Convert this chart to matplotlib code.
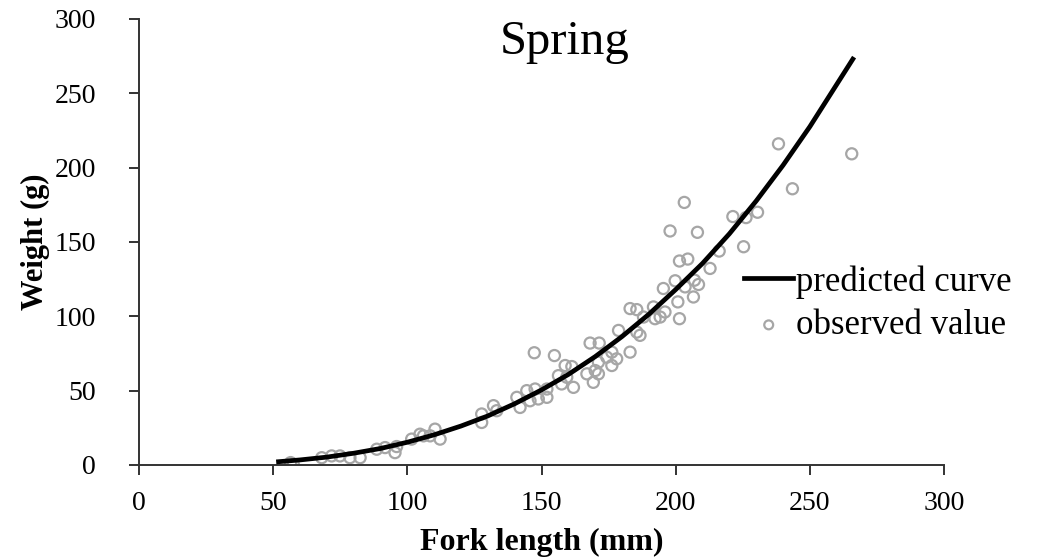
import numpy as np
from matplotlib import pyplot as plt

# predicted curve
curve_len = [52, 60, 70, 80, 90, 100, 110, 120, 130, 140, 150, 160, 170,
             180, 190, 200, 210, 220, 230, 240, 250, 266]
curve_w = [2.2, 3.4, 5.3, 7.9, 11.1, 15.3, 20.3, 26.2, 33.0, 41.2, 50.5, 60.9,
           72.9, 86.4, 101.4, 118.0, 135.6, 155.5, 177.6, 201.6, 227.6, 273.0]

# observed values
obs_len = [56.5, 57.5, 68.1, 71.8, 74.9, 78.6, 82.4, 88.6, 91.7, 95.4, 96.0,
           101.6, 104.7, 106.0, 108.5, 110.3, 112.2, 127.7, 127.7, 132.1, 133.3,
           140.8, 142.0, 144.5, 145.7, 147.3, 147.6, 148.8, 152.0, 152.0, 154.8,
           156.3, 157.5, 158.8, 159.4, 161.3, 161.9, 166.9, 168.1, 169.3, 170.0,
           171.2, 171.2, 171.5, 174.3, 176.2, 176.2, 178.0, 178.7, 183.0, 183.0,
           185.5, 185.5, 186.7, 188.0, 191.7, 192.3, 194.2, 195.4, 196.0, 197.9,
           199.8, 200.8, 201.4, 201.4, 203.2, 203.5, 204.5, 206.6, 207.0, 208.1,
           208.5, 212.8, 216.2, 221.3, 225.3, 226.2, 230.5, 238.3, 243.5, 265.6]
obs_w = [1.6, 0.5, 4.9, 6.1, 6.1, 4.9, 4.9, 10.6, 11.7, 8.3, 12.4,
         17.4, 20.7, 19.6, 19.6, 24.1, 17.4, 34.3, 28.6, 39.9, 36.5,
         45.5, 38.7, 50.0, 43.2, 75.5, 51.1, 44.4, 45.5, 51.1, 73.6,
         60.1, 54.5, 66.9, 59.0, 66.2, 52.2, 61.3, 82.0, 55.6, 63.5,
         69.1, 61.3, 82.0, 72.5, 75.9, 66.9, 71.4, 90.5, 105.2, 75.9,
         104.5, 89.4, 87.2, 99.5, 106.3, 98.4, 99.5, 118.7, 102.9, 157.4,
         123.9, 109.7, 137.2, 98.4, 176.6, 119.8, 138.5, 113.0, 124.3, 156.5,
         121.4, 132.2, 143.9, 167.1, 146.8, 166.4, 170.0, 216.0, 185.8, 209.3]

x_ticks = [0, 50, 100, 150, 200, 250, 300]
y_ticks = [0, 50, 100, 150, 200, 250, 300]

plt.rcParams['font.family'] = ['Liberation Serif', 'DejaVu Serif']

fig = plt.figure(figsize=(10.42, 5.58), dpi=100)
ax = fig.add_axes([0.1334, 0.1667, 0.7726, 0.7993])

ax.scatter(obs_len, obs_w, s=64, facecolors='none', edgecolors='#a6a6a6',
           linewidths=1.6, label='observed value', zorder=2)
ax.plot(curve_len, curve_w, color='black', lw=3.4, label='predicted curve',
        zorder=3)

ax.set_xlim(0, 300)
ax.set_ylim(0, 300)
ax.set_xticks(x_ticks)
ax.set_yticks(y_ticks)
for s in ['top', 'right']:
    ax.spines[s].set_visible(False)
for s in ['left', 'bottom']:
    ax.spines[s].set_linewidth(1.4)
    ax.spines[s].set_color('#333333')
ax.tick_params(axis='both', direction='out', length=7, width=1.4,
               color='#333333', labelsize=20)
ax.tick_params(axis='y', pad=24)
ax.tick_params(axis='x', pad=12)

ax.set_xlabel('Fork length (mm)', fontsize=23, fontweight='bold')
ax.set_ylabel('Weight (g)', fontsize=22, fontweight='bold')
ax.xaxis.set_label_coords(0.5, -0.14)
ax.yaxis.set_label_coords(-0.11, 0.5)

ax.text(0.529, 0.948, 'Spring', transform=ax.transAxes, fontsize=35,
        ha='center', va='center')

h, l = ax.get_legend_handles_labels()
ax.legend(h[::-1], l[::-1], loc='center left', bbox_to_anchor=(0.752, 0.362),
          frameon=False, fontsize=25, handlelength=1.4, handletextpad=0.1,
          borderpad=0, borderaxespad=0, labelspacing=0.3, markerscale=0.8)

plt.savefig('out.png', dpi=100)
